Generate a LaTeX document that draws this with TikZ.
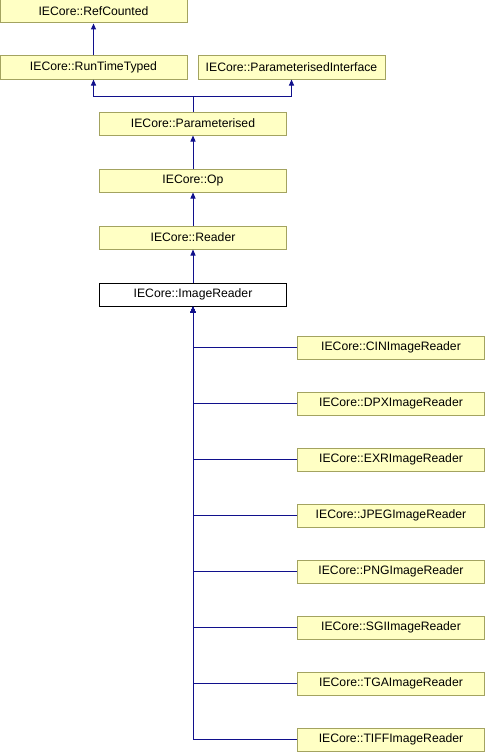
\documentclass[tikz,border=0pt]{standalone}
\usepackage{fontspec}
\setmainfont{Liberation Sans}
\usetikzlibrary{arrows.meta,positioning}
\definecolor{boxfill}{HTML}{FFFFC4}
\definecolor{boxline}{HTML}{A3A360}
\definecolor{edgeblue}{HTML}{10108C}
\begin{document}
\begin{tikzpicture}[x=1pt,y=1pt,
    cls/.style={draw=boxline,fill=boxfill,line width=1pt,minimum width=187pt,minimum height=23pt,
      inner sep=0pt,font=\fontsize{12.2}{14}\selectfont},
    cur/.style={cls,draw=black,fill=white},
    edge/.style={draw=edgeblue,line width=1pt,-{Triangle[width=5pt,length=6pt]}}]
  \useasboundingbox (0,0) rectangle (485,-752);
  \node[cls] (ref)  at (93.5,-11.5)  {IECore::RefCounted};
  \node[cls] (rtt)  at (93.5,-67.5)  {IECore::RunTimeTyped};
  \node[cls] (pint) at (291.5,-67.5) {IECore::ParameterisedInterface};
  \node[cls] (par)  at (193,-123.5)  {IECore::Parameterised};
  \node[cls,below=33pt of par] (op)     {IECore::Op};
  \node[cls,below=33pt of op] (reader)  {IECore::Reader};
  \node[cur,below=33pt of reader] (img) {IECore::ImageReader};
  \draw[edge] (rtt) -- (ref);
  \draw[edge] (par.north) -- ++(0,15) -| (rtt.south);
  \draw[edge] (par.north) -- ++(0,15) -| (pint.south);
  \draw[edge] (op) -- (par);
  \draw[edge] (reader) -- (op);
  \draw[edge] (img) -- (reader);
  \foreach \name [count=\i] in {CIN,DPX,EXR,JPEG,PNG,SGI,TGA,TIFF}{
    \node[cls] (\name) at (391,-291.5-56*\i) {IECore::\name ImageReader};
    \draw[edge] (\name.west) -| (img.south);
  }
\end{tikzpicture}
\end{document}
